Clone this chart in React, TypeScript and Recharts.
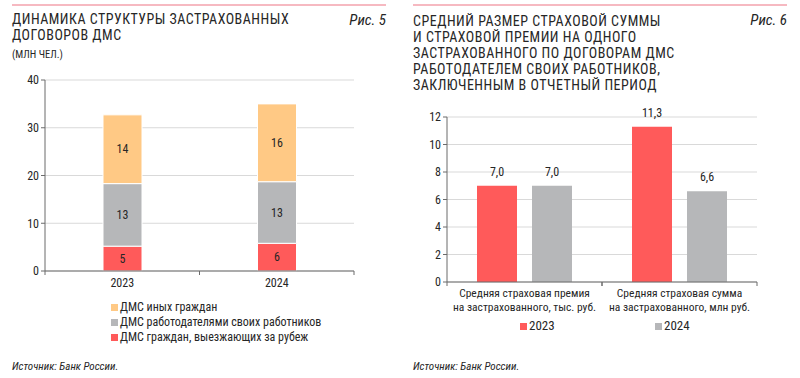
import React from "react";
import { BarChart, Bar, XAxis, YAxis, CartesianGrid, LabelList } from "recharts";

const FONT = '"Liberation Sans Narrow", "Roboto Condensed", Roboto, sans-serif';

// Chart 5 data
const years = ["2023", "2024"];
const abroad = [5.2, 5.8];
const employers = [13.1, 12.9];
const others = [14.4, 16.3];
const leftTicks = [0, 10, 20, 30, 40];

// Chart 6 data
const groups = [
  ["Средняя страховая премия", "на застрахованного, тыс. руб."],
  ["Средняя страховая сумма", "на застрахованного, млн руб."],
];
const v2023 = [7.0, 11.3];
const v2024 = [7.0, 6.6];
const rightTicks = [0, 2, 4, 6, 8, 10, 12];

const RED = "#FF5A5A";
const GRAY = "#B6B7B9";
const YELLOW = "#FFC985";
const GRID = "#D9D9D9";
const AXIS = "#6B6B6B";
const TXT = "#262626";

const leftData = years.map((y, i) => ({ year: y, abroad: abroad[i], employers: employers[i], others: others[i] }));
const rightData = groups.map((g, i) => ({ name: g.join("|"), y2023: v2023[i], y2024: v2024[i] }));

const leftLegend = [
  { name: "ДМС иных граждан", color: YELLOW },
  { name: "ДМС работодателями своих работников", color: GRAY },
  { name: "ДМС граждан, выезжающих за рубеж", color: RED },
];

const makeTick = (band: number, twoLine: boolean) => (props: any) => {
  const { x, y, payload } = props;
  const axisY = y - 7;
  const lines = twoLine ? String(payload.value).split("|") : [String(payload.value)];
  return (
    <g>
      <line x1={x - band / 2} x2={x - band / 2} y1={axisY} y2={axisY + 4} stroke={AXIS} />
      <line x1={x + band / 2} x2={x + band / 2} y1={axisY} y2={axisY + 4} stroke={AXIS} />
      {lines.map((l, i) => (
        <text key={i} x={x} y={y + i * 14} dy="0.71em" textAnchor="middle" fontSize={twoLine ? 11.5 : 12} fill={TXT} fontFamily={FONT}>
          {l}
        </text>
      ))}
    </g>
  );
};

const fmtInt = (v: any) => String(Math.round(Number(v)));
const fmtDec = (v: any) => Number(v).toFixed(1).replace(".", ",");

const Rule = ({ left }: { left: number }) => (
  <div style={{ position: "absolute", left, top: 4, width: 374, height: 2, background: "#F6B9C1" }} />
);

const titleStyle: React.CSSProperties = {
  position: "absolute",
  fontSize: 14,
  lineHeight: "16px",
  letterSpacing: "0.5px",
  textTransform: "uppercase",
  whiteSpace: "nowrap",
};

export default function App() {
  return (
    <div style={{ position: "absolute", left: 0, top: 0, width: 800, height: 378, background: "#fff", fontFamily: FONT, color: TXT, overflow: "hidden" }}>
      {/* Left panel */}
      <Rule left={12} />
      <div style={{ ...titleStyle, left: 12, top: 12, lineHeight: "15.5px" }}>
        Динамика структуры застрахованных
        <br />
        договоров ДМС
      </div>
      <div style={{ position: "absolute", left: 12, top: 49, fontSize: 10.5, lineHeight: "12px" }}>(МЛН ЧЕЛ.)</div>
      <div style={{ position: "absolute", right: 800 - 386, top: 12, fontSize: 15, lineHeight: "16px", fontStyle: "italic" }}>Рис. 5</div>

      <div style={{ position: "absolute", left: 0, top: 0 }}>
        <BarChart width={380} height={300} data={leftData} margin={{ top: 80, right: 26, left: 10, bottom: 9 }} barSize={39}>
          <CartesianGrid vertical={false} stroke={GRID} />
          <XAxis
            dataKey="year"
            height={20}
            stroke={AXIS}
            tickLine={false}
            tickSize={4}
            tickMargin={3}
            interval={0}
            tick={makeTick(154.5, false)}
          />
          <YAxis
            width={35}
            domain={[0, 40]}
            ticks={leftTicks}
            stroke={AXIS}
            tickSize={4}
            tick={{ fontSize: 12, fill: TXT, fontFamily: FONT }}
            interval={0}
          />
          <Bar dataKey="abroad" stackId="a" fill={RED} stroke="#fff" strokeWidth={1} isAnimationActive={false}>
            <LabelList dataKey="abroad" position="center" formatter={fmtInt} fill={TXT} fontSize={12} fontFamily={FONT} />
          </Bar>
          <Bar dataKey="employers" stackId="a" fill={GRAY} stroke="#fff" strokeWidth={1} isAnimationActive={false}>
            <LabelList dataKey="employers" position="center" formatter={fmtInt} fill={TXT} fontSize={12} fontFamily={FONT} />
          </Bar>
          <Bar dataKey="others" stackId="a" fill={YELLOW} stroke="#fff" strokeWidth={1} isAnimationActive={false}>
            <LabelList dataKey="others" position="center" formatter={fmtInt} fill={TXT} fontSize={12} fontFamily={FONT} />
          </Bar>
        </BarChart>
      </div>

      <div style={{ position: "absolute", left: 111, top: 300, fontSize: 12, lineHeight: "15px" }}>
        {leftLegend.map((l) => (
          <div key={l.name} style={{ display: "flex", alignItems: "center" }}>
            <span style={{ display: "inline-block", width: 7, height: 7, background: l.color, marginRight: 2 }} />
            <span>{l.name}</span>
          </div>
        ))}
      </div>
      <div style={{ position: "absolute", left: 12, top: 360, fontSize: 11, fontStyle: "italic" }}>Источник: Банк России.</div>

      {/* Right panel */}
      <Rule left={413} />
      <div style={{ ...titleStyle, left: 413, top: 13 }}>
        Средний размер страховой суммы
        <br />
        и страховой премии на одного
        <br />
        застрахованного по договорам ДМС
        <br />
        работодателем своих работников,
        <br />
        заключенным в отчетный период
      </div>
      <div style={{ position: "absolute", right: 800 - 787, top: 12, fontSize: 15, lineHeight: "16px", fontStyle: "italic" }}>Рис. 6</div>

      <div style={{ position: "absolute", left: 400, top: 0 }}>
        <BarChart width={380} height={330} data={rightData} margin={{ top: 117, right: 23, left: 12, bottom: 8 }} barSize={40} barGap={15}>
          <CartesianGrid vertical={false} stroke={GRID} />
          <XAxis
            dataKey="name"
            height={40}
            stroke={AXIS}
            tickLine={false}
            tickSize={4}
            tickMargin={3}
            interval={0}
            tick={makeTick(155, true)}
          />
          <YAxis
            width={35}
            domain={[0, 12]}
            ticks={rightTicks}
            stroke={AXIS}
            tickSize={4}
            tick={{ fontSize: 12, fill: TXT, fontFamily: FONT }}
            interval={0}
          />
          <Bar dataKey="y2023" fill={RED} isAnimationActive={false}>
            <LabelList dataKey="y2023" position="top" offset={10} formatter={fmtDec} fill={TXT} fontSize={12} fontFamily={FONT} />
          </Bar>
          <Bar dataKey="y2024" fill={GRAY} isAnimationActive={false}>
            <LabelList dataKey="y2024" position="top" offset={10} formatter={fmtDec} fill={TXT} fontSize={12} fontFamily={FONT} />
          </Bar>
        </BarChart>
      </div>

      <div style={{ position: "absolute", left: 520, top: 318, fontSize: 13, lineHeight: "16px", display: "flex", alignItems: "center" }}>
        <span style={{ display: "inline-block", width: 7, height: 7, background: RED, marginRight: 2 }} />
        <span>2023</span>
      </div>
      <div style={{ position: "absolute", left: 655, top: 318, fontSize: 13, lineHeight: "16px", display: "flex", alignItems: "center" }}>
        <span style={{ display: "inline-block", width: 7, height: 7, background: GRAY, marginRight: 2 }} />
        <span>2024</span>
      </div>
      <div style={{ position: "absolute", left: 413, top: 360, fontSize: 11, fontStyle: "italic" }}>Источник: Банк России.</div>
    </div>
  );
}
